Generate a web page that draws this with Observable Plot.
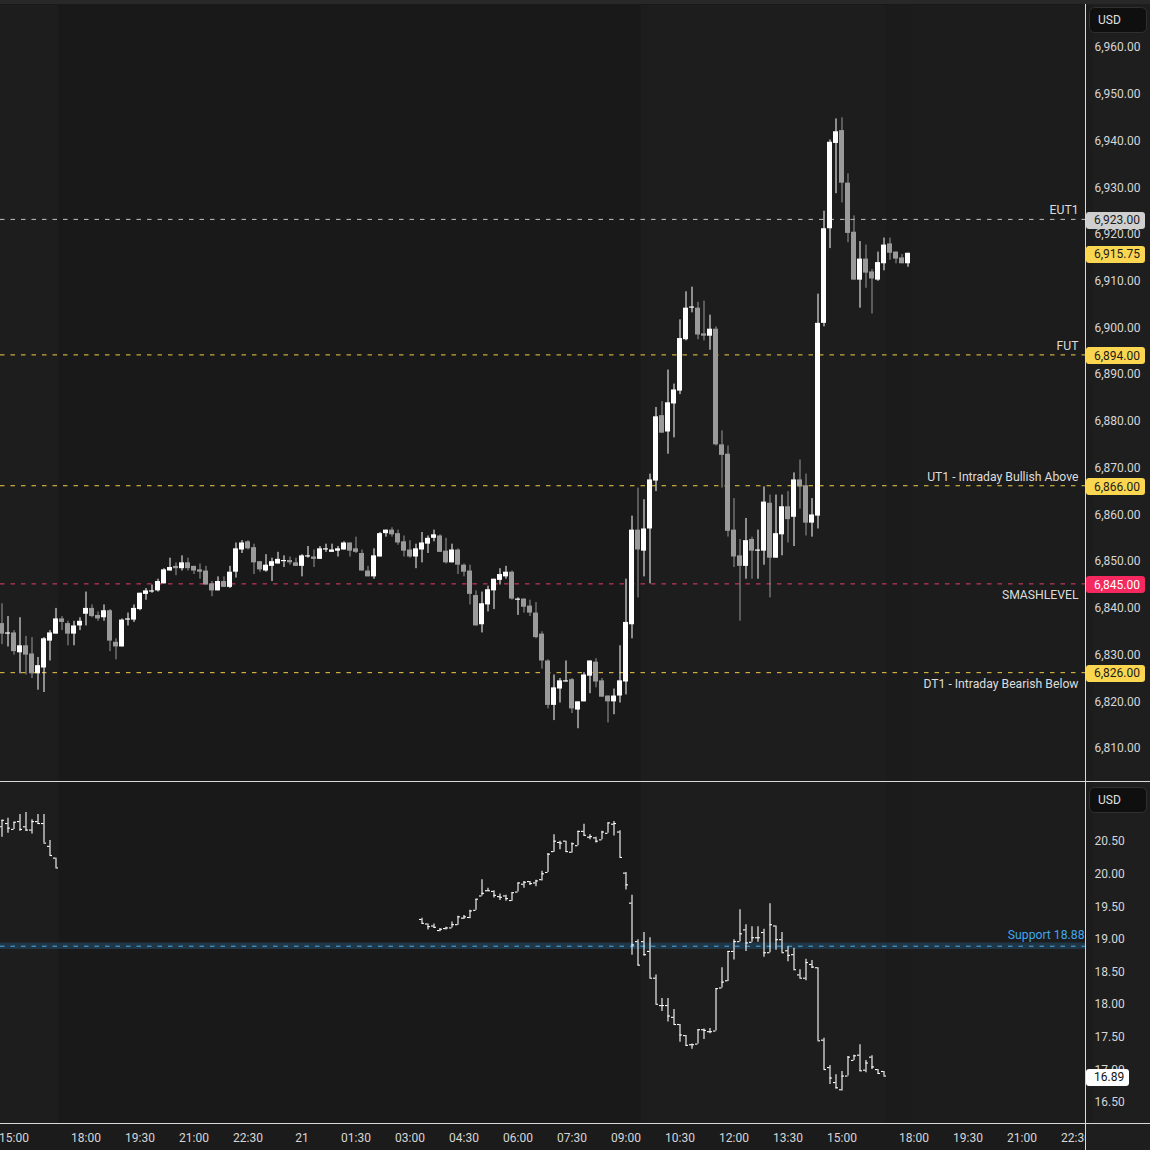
<!DOCTYPE html>
<html><head><meta charset="utf-8">
<script src="https://cdn.jsdelivr.net/npm/d3@7"></script>
<script src="https://cdn.jsdelivr.net/npm/@observablehq/plot@0.6"></script>
<style>
html,body{margin:0;padding:0;background:#191919;}
#wrap{position:relative;width:1150px;height:1150px;overflow:hidden;background:#191919;font-family:Roboto,sans-serif;}
#axisbg{position:absolute;left:1086px;top:0;width:64px;height:1150px;background:#1e1e1e;}
#xstrip{position:absolute;left:0;top:1124px;width:1086px;height:26px;background:#1b1b1b;}
#topbar{position:absolute;left:0;top:0;width:1150px;height:4px;background:#282828;}
#top{position:absolute;left:0;top:0;}
#bot{position:absolute;left:0;top:781px;}
#cover{position:absolute;left:1086px;top:1124px;width:64px;height:26px;background:#1e1e1e;}
.hl{position:absolute;left:0;width:1150px;height:1px;background:#d9d9d9;}
.vl{position:absolute;top:4px;left:1085px;width:1px;height:1146px;background:#d9d9d9;}
</style></head>
<body><div id="wrap"><div id="axisbg"></div><div id="xstrip"></div><div id="topbar"></div><div id="top"></div><div id="bot"></div><div id="cover"></div>
<div class="hl" style="top:781px"></div><div class="hl" style="top:1123px"></div><div class="vl"></div></div>
<script>
// ---------- DATA (10-minute bars, bar 0 = 14:40 prev. day) ----------
const openP = [6836.5,6834.25,6834.5,6830.25,6831.75,6830.0,6825.75,6827.0,6832.75,6834.25,
6837.5,6836.5,6834.25,6836.0,6838.5,6839.75,6838.25,6837.75,6839.25,6832.5,
6831.5,6837.25,6837.25,6839.5,6842.75,6843.25,6843.5,6845.0,6847.75,6848.75,
6848.25,6849.5,6848.75,6848.0,6847.75,6845.0,6843.5,6845.5,6844.25,6847.5,
6852.25,6854.0,6852.75,6849.75,6847.75,6848.75,6849.25,6849.75,6850.0,6849.5,
6848.75,6850.75,6850.75,6850.25,6852.25,6851.75,6852.0,6852.25,6853.75,6852.5,
6851.5,6847.75,6846.5,6850.75,6855.75,6856.5,6855.75,6854.0,6852.25,6850.75,
6852.25,6853.5,6854.75,6855.25,6852.0,6849.5,6852.25,6849.0,6847.75,6842.5,
6836.25,6840.5,6843.5,6845.75,6846.5,6847.5,6841.5,6841.75,6840.25,6838.75,
6834.25,6828.5,6819.0,6822.5,6824.0,6824.5,6818.0,6819.75,6825.25,6828.25,
6824.25,6821.0,6819.75,6821.0,6824.0,6836.25,6856.5,6852.0,6856.75,6867.0,
6881.0,6877.5,6883.5,6886.25,6897.25,6904.0,6904.0,6898.5,6898.0,6899.5,
6874.75,6872.75,6856.5,6851.0,6848.75,6854.5,6852.0,6852.0,6862.25,6850.5,
6855.5,6861.5,6859.25,6867.25,6866.0,6858.0,6859.5,6900.75,6921.0,6939.25,
6942.0,6930.75,6920.25,6910.0,6914.5,6911.75,6910.0,6913.5,6917.75,6916.0,
6914.75,6913.5];
const highP = [6840.75,6838.0,6835.0,6837.75,6833.75,6833.5,6829.25,6833.5,6835.0,6839.75,
6838.0,6837.0,6837.0,6837.75,6843.25,6840.5,6839.0,6840.5,6839.5,6833.25,
6837.5,6838.75,6840.5,6843.0,6844.0,6844.75,6846.0,6848.25,6850.5,6849.5,
6851.0,6850.5,6848.75,6849.25,6848.75,6845.5,6846.5,6846.5,6848.75,6853.75,
6854.25,6854.25,6853.5,6849.75,6851.25,6850.5,6851.75,6851.0,6850.75,6850.5,
6851.25,6853.0,6852.25,6853.0,6853.5,6853.5,6853.0,6854.0,6853.75,6855.0,
6852.25,6848.75,6852.5,6856.0,6856.5,6857.0,6856.5,6855.25,6854.25,6853.5,
6856.0,6855.25,6856.5,6855.5,6854.75,6853.5,6852.5,6849.25,6849.0,6843.5,
6843.25,6844.5,6846.0,6848.25,6848.75,6847.75,6842.0,6841.75,6841.5,6841.0,
6834.75,6828.75,6825.5,6824.75,6828.5,6824.75,6819.75,6826.0,6828.5,6829.0,
6824.75,6821.0,6822.5,6831.75,6846.0,6859.5,6865.5,6863.0,6868.5,6882.75,
6884.0,6890.75,6887.75,6901.5,6907.5,6908.5,6905.25,6905.5,6902.5,6900.0,
6877.75,6874.5,6863.25,6854.5,6859.0,6855.0,6856.5,6865.75,6864.0,6864.0,
6864.0,6864.75,6868.75,6871.5,6868.5,6863.25,6907.0,6924.75,6940.0,6944.5,
6944.75,6932.75,6923.75,6918.25,6917.5,6912.25,6916.0,6919.0,6919.0,6916.0,
6915.5,6915.75];
const lowP = [6832.0,6831.5,6829.75,6825.75,6825.5,6824.75,6822.25,6821.75,6828.5,6834.25,
6835.0,6831.75,6831.75,6835.0,6836.0,6837.75,6837.0,6837.0,6830.5,6828.75,
6831.5,6836.0,6836.75,6839.25,6841.5,6843.0,6843.25,6845.0,6847.75,6846.75,
6847.75,6847.75,6847.0,6846.0,6844.75,6842.25,6843.5,6844.25,6844.0,6846.25,
6851.5,6852.25,6847.0,6847.5,6847.5,6845.5,6849.25,6848.5,6849.0,6848.75,
6846.5,6850.5,6848.5,6850.25,6851.75,6851.75,6850.75,6852.25,6850.75,6851.5,
6847.75,6846.5,6846.0,6850.75,6855.0,6855.0,6853.25,6850.75,6850.5,6848.25,
6849.5,6851.5,6854.0,6851.75,6849.25,6849.5,6847.0,6846.5,6840.5,6836.0,
6834.5,6839.0,6839.5,6844.75,6846.0,6841.5,6838.25,6838.75,6838.0,6833.25,
6826.75,6818.25,6815.75,6819.5,6824.0,6817.25,6814.0,6819.75,6821.5,6822.75,
6820.75,6815.25,6817.0,6819.5,6821.25,6833.25,6842.0,6846.5,6845.0,6864.75,
6877.25,6872.75,6876.25,6885.5,6897.0,6903.0,6897.25,6897.0,6895.0,6874.5,
6865.5,6855.0,6848.5,6837.0,6846.0,6846.0,6846.0,6849.0,6842.0,6850.5,
6851.0,6853.75,6853.0,6861.0,6855.25,6855.0,6856.75,6900.0,6916.75,6928.5,
6926.5,6918.0,6910.0,6904.0,6908.25,6902.75,6909.75,6912.0,6914.25,6913.5,
6913.5,6912.75];
const closeP = [6834.25,6834.5,6830.5,6831.75,6829.75,6825.75,6827.5,6833.25,6834.5,6837.5,
6836.75,6834.25,6836.0,6837.0,6839.75,6838.0,6837.5,6839.25,6832.75,6831.5,
6837.25,6837.5,6839.75,6843.0,6843.5,6843.5,6845.5,6848.0,6848.5,6848.25,
6849.5,6848.25,6847.75,6847.5,6844.75,6843.5,6845.5,6844.25,6847.5,6852.5,
6853.75,6852.5,6849.5,6848.0,6849.0,6849.75,6850.25,6850.0,6849.5,6848.75,
6851.0,6851.0,6850.25,6852.5,6852.5,6852.25,6852.5,6853.75,6852.0,6851.75,
6847.75,6846.5,6851.0,6855.75,6856.5,6855.5,6853.75,6852.0,6850.75,6852.5,
6853.75,6854.75,6855.5,6851.75,6849.5,6852.25,6849.0,6847.5,6842.75,6836.0,
6840.75,6843.75,6846.0,6847.0,6847.5,6841.75,6841.75,6840.0,6838.75,6833.5,
6828.5,6819.0,6822.75,6824.25,6824.25,6818.25,6819.75,6825.5,6828.5,6824.0,
6820.75,6819.75,6821.0,6824.25,6836.75,6856.5,6852.25,6856.75,6867.25,6880.75,
6877.25,6883.75,6886.5,6897.5,6904.0,6904.25,6898.25,6898.0,6899.5,6874.75,
6872.5,6856.25,6850.75,6848.75,6854.25,6852.0,6852.25,6862.5,6850.5,6855.75,
6861.5,6858.75,6867.25,6865.75,6858.0,6859.75,6900.75,6921.0,6939.5,6941.75,
6930.75,6920.0,6910.0,6914.5,6911.5,6910.25,6913.75,6917.5,6915.75,6914.5,
6913.5,6915.75];

// lower panel (volatility index), two segments
const vixStart1 = 0;
const vixO1 = [20.71,20.76,20.67,20.79,20.71,20.66,20.79,20.76,20.41,20.23];
const vixH1 = [20.81,20.84,20.78,20.90,20.93,20.82,20.90,20.90,20.50,20.23];
const vixL1 = [20.55,20.61,20.67,20.64,20.64,20.60,20.75,20.46,20.27,20.08];
const vixC1 = [20.81,20.69,20.78,20.67,20.66,20.79,20.76,20.46,20.27,20.08];
const vixStart2 = 70;
const vixO2 = [19.29,19.22,19.19,19.12,19.15,19.16,19.21,19.31,19.32,19.43,19.65,19.73,19.72,19.64,19.65,19.58,19.71,19.83,19.87,19.85,
19.90,20.01,20.33,20.47,20.49,20.32,20.42,20.64,20.55,20.54,20.51,20.61,20.75,20.63,20.00,19.54,18.95,18.95,18.80,18.39,
17.97,17.97,17.79,17.68,17.51,17.37,17.38,17.60,17.57,17.58,18.24,18.35,18.80,18.95,19.13,18.94,19.01,19.09,18.78,19.19,
18.98,18.81,18.75,18.44,18.39,18.60,18.55,17.44,17.02,16.79,16.68,16.89,17.13,17.21,16.98,17.18,16.99,16.96];
const vixH2 = [19.31,19.22,19.22,19.15,19.17,19.25,19.34,19.35,19.43,19.60,19.90,19.77,19.73,19.68,19.66,19.70,19.85,19.87,19.87,19.89,
20.03,20.30,20.59,20.49,20.49,20.46,20.64,20.75,20.59,20.55,20.64,20.77,20.79,20.65,20.01,19.66,18.98,19.09,19.01,18.44,
18.08,18.08,17.91,17.68,17.51,17.38,17.60,17.61,17.62,18.23,18.55,18.80,18.98,19.44,19.21,19.18,19.18,19.14,19.53,19.19,
19.09,18.87,18.85,18.52,18.68,18.66,18.55,17.47,17.05,16.91,16.96,17.19,17.21,17.37,17.13,17.20,16.99,16.96];
const vixL2 = [19.22,19.13,19.15,19.10,19.13,19.16,19.20,19.29,19.30,19.43,19.65,19.72,19.62,19.58,19.57,19.57,19.71,19.77,19.81,19.79,
19.88,20.01,20.32,20.36,20.32,20.31,20.42,20.57,20.51,20.46,20.51,20.61,20.57,20.24,19.74,18.74,18.58,18.73,18.39,17.99,
17.88,17.72,17.68,17.41,17.35,17.30,17.38,17.45,17.54,17.58,18.24,18.34,18.67,18.95,18.80,18.94,18.94,18.71,18.78,18.82,
18.78,18.64,18.52,18.39,18.35,18.54,17.43,16.99,16.76,16.69,16.66,16.89,17.13,16.96,16.94,16.99,16.92,16.89];
const vixC2 = [19.23,19.18,19.17,19.14,19.16,19.21,19.33,19.33,19.42,19.60,19.69,19.73,19.66,19.63,19.61,19.70,19.85,19.86,19.84,19.88,
19.99,20.29,20.49,20.46,20.33,20.45,20.64,20.58,20.56,20.49,20.63,20.77,20.76,20.24,19.82,18.90,18.59,18.75,18.39,17.99,
17.97,17.81,17.68,17.52,17.36,17.37,17.60,17.59,17.57,18.23,18.33,18.80,18.95,19.07,18.93,19.01,19.01,18.78,19.21,18.98,
18.78,18.74,18.52,18.39,18.63,18.56,17.43,16.99,16.86,16.71,16.89,17.18,17.20,16.97,17.09,17.03,16.93,16.89];

// time axis
const tickBar = [2,14,23,32,41,50,59,68,77,86,95,104,113,122,131,140,152,161,170,179];
const tickLabel = ["15:00","18:00","19:30","21:00","22:30","21","01:30","03:00","04:30","06:00","07:30","09:00","10:30","12:00","13:30","15:00","18:00","19:30","21:00","22:30"];

// session shading (bar index ranges)
const shadeFrom = [-1, 106.5, 147.5, 151.5];
const shadeTo = [9.5, 147.5, 151.5, 182];
const shadeColor = ["#1d1d1d", "#1d1d1d", "#1b1b1b", "#1c1c1c"];

// horizontal levels
const levelPrice = [6923, 6894, 6866, 6845, 6826];
const levelName = ["EUT1", "FUT", "UT1 - Intraday Bullish Above", "SMASHLEVEL", "DT1 - Intraday Bearish Below"];
const levelSide = ["above", "above", "above", "below", "below"];
const levelLine = ["#c4c4c4", "#f0cb45", "#f0cb45", "#e63c66", "#f0cb45"];
const levelTagBg = ["#cfcfcf", "#fbd650", "#fbd650", "#f5285f", "#fbd650"];
const levelTagFg = ["#1b1b1b", "#1b1b1b", "#1b1b1b", "#ffffff", "#1b1b1b"];
const lastPrice = 6915.75;
const supportValue = 18.88;
const lastVix = 16.89;

// ---------- BUILD ----------
const bars = openP.map((o, i) => ({i, o, h: highP[i], l: lowP[i], c: closeP[i], up: closeP[i] >= o}));
const bodyOf = d => {
  const a = Math.min(d.o, d.c), b = Math.max(d.o, d.c);
  return b - a < 0.25 ? [a - 0.12, a + 0.13] : [a, b];
};
const vix = [];
vixO1.forEach((o, j) => vix.push({i: vixStart1 + j, o, h: vixH1[j], l: vixL1[j], c: vixC1[j]}));
vixO2.forEach((o, j) => vix.push({i: vixStart2 + j, o, h: vixH2[j], l: vixL2[j], c: vixC2[j]}));
const shades = shadeFrom.map((f, j) => ({from: f, to: shadeTo[j], color: shadeColor[j]}));
const levels = levelPrice.map((p, j) => ({p, name: levelName[j], side: levelSide[j], line: levelLine[j]}));

const xDomain = [-0.25, 180.5833];
const fontStyle = {background: "transparent", color: "#d6d6d6", fontFamily: "Roboto, sans-serif", fontSize: "12px"};
const HW = 5 / 12;

const topPlot = Plot.plot({
  width: 1150, height: 781, marginLeft: 0, marginRight: 65, marginTop: 5, marginBottom: 0,
  style: fontStyle,
  x: {domain: xDomain, axis: null},
  y: {domain: [6802.71, 6968.77]},
  marks: [
    Plot.rect(shades, {x1: "from", x2: "to", fill: "color"}),
    Plot.ruleY(levels, {y: "p", stroke: "line", strokeDasharray: "4.5,6"}),
    Plot.text(levels.filter(d => d.side === "above"), {y: "p", text: "name", frameAnchor: "right", textAnchor: "end", dx: -7, dy: -9, fontSize: 12.2, fill: "#dcdcdc"}),
    Plot.text(levels.filter(d => d.side === "below"), {y: "p", text: "name", frameAnchor: "right", textAnchor: "end", dx: -7, dy: 11, fontSize: 12.2, fill: "#dcdcdc"}),
    Plot.ruleX(bars.filter(d => !d.up), {x: "i", y1: "l", y2: "h", stroke: "#9a9a9a", strokeWidth: 1}),
    Plot.ruleX(bars.filter(d => d.up), {x: "i", y1: "l", y2: "h", stroke: "#ffffff", strokeWidth: 1}),
    Plot.rect(bars.filter(d => !d.up), {x1: d => d.i - HW, x2: d => d.i + HW, y1: d => bodyOf(d)[0], y2: d => bodyOf(d)[1], fill: "#9a9a9a"}),
    Plot.rect(bars.filter(d => d.up), {x1: d => d.i - HW, x2: d => d.i + HW, y1: d => bodyOf(d)[0], y2: d => bodyOf(d)[1], fill: "#ffffff"}),
    Plot.axisY({anchor: "right", ticks: d3.range(6810, 6961, 10), tickSize: 0, tickPadding: 9, dy: 1, tickFormat: d3.format(",.2f"), label: null})
  ]
});
document.getElementById("top").appendChild(topPlot);

const botPlot = Plot.plot({
  width: 1150, height: 369, marginLeft: 0, marginRight: 65, marginTop: 1, marginBottom: 27,
  style: fontStyle,
  x: {domain: xDomain},
  y: {domain: [16.163, 21.389]},
  marks: [
    Plot.rect(shades, {x1: "from", x2: "to", fill: "color"}),
    Plot.rect([{a: supportValue - 0.05, b: supportValue + 0.05}], {y1: "a", y2: "b", fill: "#1f3a4b", fillOpacity: 0.9}),
    Plot.ruleY([supportValue], {stroke: "#4aa9e6", strokeDasharray: "4.5,6"}),
    Plot.text([supportValue], {y: d => d, text: d => "Support " + d.toFixed(2), frameAnchor: "right", textAnchor: "end", dx: -1, dy: -11, fontSize: 12.2, fill: "#3fa6ec"}),
    Plot.ruleX(vix, {x: "i", y1: "l", y2: "h", stroke: "#ffffff", strokeWidth: 1.1}),
    Plot.ruleY(vix, {y: "o", x1: d => d.i - HW, x2: d => d.i, stroke: "#ffffff", strokeWidth: 1.1}),
    Plot.ruleY(vix, {y: "c", x1: d => d.i, x2: d => d.i + HW, stroke: "#ffffff", strokeWidth: 1.1}),
    Plot.axisY({anchor: "right", ticks: d3.range(16.5, 20.51, 0.5), tickSize: 0, tickPadding: 9, dy: 1, tickFormat: d3.format(".2f"), label: null}),
    Plot.axisX({anchor: "bottom", ticks: tickBar, tickFormat: d => tickLabel[tickBar.indexOf(d)], tickSize: 0, tickPadding: 10, label: null})
  ]
});
document.getElementById("bot").appendChild(botPlot);

// price tags and currency boxes on the right axis, positioned via the plots' y scales
function tag(svg, yScale, value, bg, fg, w, fmt) {
  const y = yScale.apply(value);
  const g = d3.select(svg).append("g").attr("text-anchor", "start");
  g.append("rect").attr("x", 1086).attr("y", Math.round(y) - 7).attr("width", w).attr("height", 17).attr("rx", 3).attr("fill", bg);
  g.append("text").attr("x", 1094).attr("y", y + 1).attr("dy", "0.36em").attr("fill", fg).attr("text-anchor", "start")
    .attr("font-family", "Roboto, sans-serif").attr("font-size", 12).text(fmt(value));
}
function usd(svg, y) {
  const g = d3.select(svg).append("g").attr("text-anchor", "start");
  g.append("rect").attr("x", 1089.5).attr("y", y + 0.5).attr("width", 57).attr("height", 25).attr("rx", 5)
    .attr("fill", "#0f0f0f").attr("stroke", "#303030");
  g.append("text").attr("x", 1098).attr("y", y + 13).attr("dy", "0.36em").attr("fill", "#e0e0e0").attr("text-anchor", "start")
    .attr("font-family", "Roboto, sans-serif").attr("font-size", 12).text("USD");
}
const yT = topPlot.scale("y");
levels.forEach((d, j) => tag(topPlot, yT, d.p, levelTagBg[j], levelTagFg[j], 59, d3.format(",.2f")));
tag(topPlot, yT, lastPrice, "#fbd650", "#1b1b1b", 59, d3.format(",.2f"));
usd(topPlot, 7);
const yB = botPlot.scale("y");
tag(botPlot, yB, lastVix, "#ffffff", "#111111", 43, d3.format(".2f"));
usd(botPlot, 6);
</script></body></html>
